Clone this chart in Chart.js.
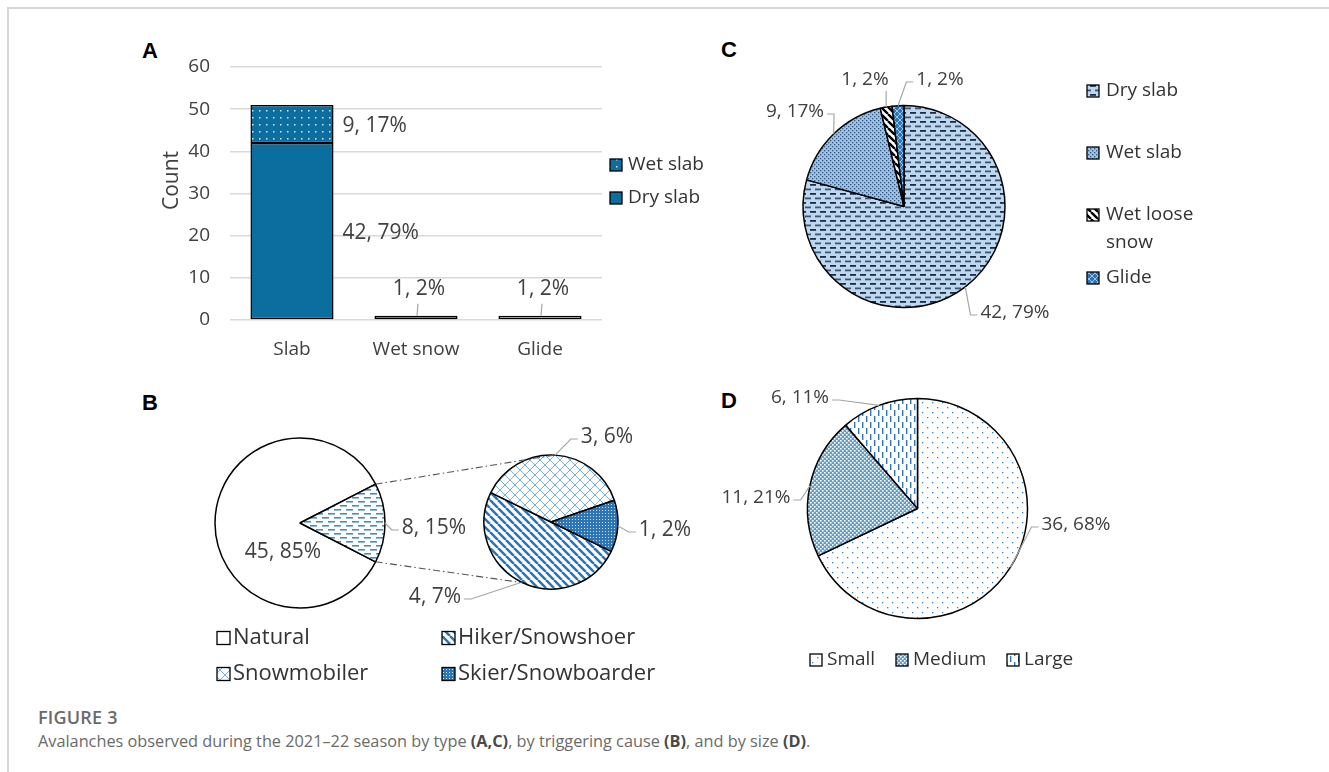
<!DOCTYPE html>
<html>
<head>
<meta charset="utf-8">
<script src="https://cdn.jsdelivr.net/npm/chart.js@4.4.1/dist/chart.umd.min.js"></script>
<style>
  html, body { margin: 0; padding: 0; background: #fff; }
  #page { position: relative; width: 1329px; height: 772px; overflow: hidden; font-family: "Open Sans", sans-serif; }
  .frame { position: absolute; left: 7px; top: 7px; width: 1400px; height: 800px; border-top: 2px solid #d6d6d6; border-left: 2px solid #d6d6d6; }
  .tag { position: absolute; font: bold 22px "Liberation Sans", Arial, sans-serif; line-height: 22px; color: #000; }
  canvas { position: absolute; }
  .cap1 { position: absolute; left: 38px; top: 707px; font-size: 18px; font-weight: 600; line-height: 20px; color: #6a6a6a; letter-spacing: 0.2px; }
  .cap2 { position: absolute; left: 38px; top: 731px; font-size: 16.3px; line-height: 20px; color: #6a6a6a; }
  .cap2 b { color: #4a4a4a; font-weight: 700; }
</style>
</head>
<body>
<div id="page">
  <div class="frame"></div>
  <div class="tag" style="left:142px; top:40px">A</div>
  <div class="tag" style="left:142px; top:392px">B</div>
  <div class="tag" style="left:721px; top:39px">C</div>
  <div class="tag" style="left:721px; top:390px">D</div>

  <canvas id="typeBars" width="600" height="340" style="left:130px; top:30px"></canvas>
  <canvas id="typePie" width="500" height="320" style="left:720px; top:30px"></canvas>
  <canvas id="triggerPie" width="570" height="320" style="left:130px; top:380px"></canvas>
  <canvas id="triggerSplit" width="570" height="320" style="left:130px; top:380px"></canvas>
  <canvas id="sizePie" width="480" height="320" style="left:720px; top:380px"></canvas>

  <div class="cap1">FIGURE 3</div>
  <div class="cap2">Avalanches observed during the 2021–22 season by type <b>(A,C)</b>, by triggering cause <b>(B)</b>, and by size <b>(D)</b>.</div>
</div>

<script>
// bar chart: avalanche type, stacked by slab kind
const typeCategories = ['Slab', 'Wet snow', 'Glide'];
const drySlabCounts = [42, null, null];
const wetSlabCounts = [9, null, null];
const otherTypeCounts = [null, 1, 1];
const drySlabShares = [79, null, null];
const wetSlabShares = [17, null, null];
const otherTypeShares = [null, 2, 2];
const countTicks = [0, 10, 20, 30, 40, 50, 60];
const countTitle = 'Count';

// pie: avalanche type
const typeNames = ['Dry slab', 'Wet slab', 'Wet loose snow', 'Glide'];
const typeCounts = [42, 9, 1, 1];
const typeShares = [79, 17, 2, 2];

// pie of pie: triggering cause
const triggerNames = ['Natural', 'Hiker/Snowshoer', 'Snowmobiler', 'Skier/Snowboarder'];
const triggerCounts = [45, 4, 3, 1];
const triggerShares = [85, 7, 6, 2];
const humanShare = 15;

// pie: avalanche size
const sizeNames = ['Small', 'Medium', 'Large'];
const sizeCounts = [36, 11, 6];
const sizeShares = [68, 21, 11];

const FONT = '"Open Sans", sans-serif';
const LABEL_COLOR = '#404040';
const LEADER_COLOR = '#a6a6a6';

Chart.defaults.font.family = FONT;
Chart.defaults.color = LABEL_COLOR;
Chart.defaults.animation = false;
Chart.defaults.events = [];
Chart.defaults.plugins.legend.display = false;
Chart.defaults.plugins.tooltip.enabled = false;

// ---- fill patterns ----
function tile(w, h, bg, paint) {
  const c = document.createElement('canvas');
  c.width = w; c.height = h;
  const g = c.getContext('2d');
  if (bg) { g.fillStyle = bg; g.fillRect(0, 0, w, h); }
  paint(g);
  return g.createPattern(c, 'repeat');
}
function dots(g, color, r, pts) {
  g.fillStyle = color;
  pts.forEach(([x, y]) => g.fillRect(x, y, r, r));
}
function stripes(g, s, color, lw, down) {
  g.strokeStyle = color; g.lineWidth = lw;
  g.beginPath();
  for (const k of [-s, 0, s]) {
    if (down) { g.moveTo(k, 0); g.lineTo(k + s, s); }
    else { g.moveTo(k, s); g.lineTo(k + s, 0); }
  }
  g.stroke();
}

const fill = {
  slab: '#0b6e9f',
  slabDots: tile(7, 7, '#0b6e9f', g => dots(g, '#d5eaf6', 1.5, [[3, 3]])),
  wetSnow: '#2e96d8',
  glideBar: '#a3c9ec',
  dryDash: tile(10, 9, '#bdd7ee', g => {
    g.fillStyle = '#1c2c46'; g.fillRect(0, 1, 6, 1.8);
    g.fillStyle = '#3f5673'; g.fillRect(5, 5.5, 5, 1.8); g.fillRect(0, 5.5, 1, 1.8);
  }),
  wetDots: tile(4, 4, '#9dc3e6', g => dots(g, '#34557e', 1.3, [[0, 0], [2, 2]])),
  wetLoose: tile(7, 7, '#ffffff', g => stripes(g, 7, '#000', 2.4, true)),
  glideLattice: tile(6, 6, '#2e75b6', g => { stripes(g, 6, '#a9cbea', 0.9, true); stripes(g, 6, '#a9cbea', 0.9, false); }),
  natural: '#ffffff',
  humanDash: tile(12, 8, '#ffffff', g => {
    g.fillStyle = '#4a8cc8'; g.fillRect(0, 1, 7, 1.6); g.fillRect(6, 5, 6, 1.6); g.fillRect(0, 5, 1, 1.6);
  }),
  hiker: tile(8, 8, '#ffffff', g => stripes(g, 8, '#2e75b6', 2.6, true)),
  snowmobiler: tile(10, 10, '#fbfdff', g => { stripes(g, 10, '#7aaedb', 1, true); stripes(g, 10, '#7aaedb', 1, false); }),
  skier: tile(3, 3, '#2e75b6', g => dots(g, '#cfe3f5', 1, [[1, 1]])),
  small: tile(10, 10, '#ffffff', g => dots(g, '#3a7fc0', 1.3, [[2, 2], [7, 7]])),
  medium: tile(4, 4, '#5f9ccf', g => dots(g, '#ffffff', 1.6, [[0, 0], [2, 2]])),
  large: tile(8, 12, '#ffffff', g => { g.fillStyle = '#2e75b6'; g.fillRect(2, 0, 1.4, 6); g.fillRect(6, 6, 1.4, 6); })
};

// ---- plugins ----
function barLabels(shares) {
  return {
    id: 'barLabels',
    afterDatasetsDraw(chart) {
      const ctx = chart.ctx;
      ctx.save();
      ctx.font = `21px ${FONT}`;
      ctx.textBaseline = 'middle';
      chart.data.datasets.forEach((ds, d) => {
        chart.getDatasetMeta(d).data.forEach((bar, i) => {
          const v = ds.data[i];
          if (v == null) return;
          const text = `${v}, ${shares[d][i]}%`;
          const h = bar.base - bar.y;
          ctx.fillStyle = LABEL_COLOR;
          if (h > 24) {
            ctx.textAlign = 'left';
            ctx.fillText(text, bar.x + bar.width / 2 + 9, bar.y + h / 2 + 2);
          } else {
            ctx.textAlign = 'center';
            ctx.fillText(text, bar.x + 3, bar.y - 27);
            ctx.strokeStyle = LEADER_COLOR; ctx.lineWidth = 1.2;
            ctx.beginPath(); ctx.moveTo(bar.x + 2, bar.y - 12); ctx.lineTo(bar.x + 1, bar.y); ctx.stroke();
          }
        });
      });
      ctx.restore();
    }
  };
}

// rotated y axis title, sitting a little above the axis middle
const axisTitle = {
  id: 'axisTitle',
  afterDraw(chart) {
    const y = chart.scales.y;
    const ctx = chart.ctx;
    ctx.save();
    ctx.translate(y.left + 42, (y.top + y.bottom) / 2 - 13);
    ctx.rotate(-Math.PI / 2);
    ctx.font = `21px ${FONT}`;
    ctx.fillStyle = LABEL_COLOR;
    ctx.textAlign = 'center';
    ctx.textBaseline = 'middle';
    ctx.fillText(countTitle, 0, 0);
    ctx.restore();
  }
};

// value labels around a pie, with elbow leader lines back to the slice edge
function sliceLabels(texts, spots, size) {
  return {
    id: 'sliceLabels',
    afterDatasetsDraw(chart) {
      const ctx = chart.ctx;
      const arcs = chart.getDatasetMeta(0).data;
      ctx.save();
      ctx.font = `${size}px ${FONT}`;
      ctx.textBaseline = 'middle';
      ctx.textAlign = 'center';
      arcs.forEach((arc, i) => {
        const s = spots[i];
        const text = texts[i];
        const w = ctx.measureText(text).width;
        const cx = arc.x + s.dx, cy = arc.y + s.dy;
        if (s.leader) {
          const mid = (arc.startAngle + arc.endAngle) / 2;
          const px = arc.x + Math.cos(mid) * arc.outerRadius;
          const py = arc.y + Math.sin(mid) * arc.outerRadius;
          let ex, ey, sx, sy;
          if (cx - w / 2 > px) { ex = cx - w / 2 - 3; sx = ex - 7; ey = sy = cy + 2; }
          else if (cx + w / 2 < px) { ex = cx + w / 2 + 3; sx = ex + 7; ey = sy = cy + 2; }
          else { ex = sx = Math.min(Math.max(px, cx - w / 2), cx + w / 2); ey = sy = cy + 11; }
          ctx.strokeStyle = LEADER_COLOR; ctx.lineWidth = 1.2;
          ctx.beginPath(); ctx.moveTo(px, py); ctx.lineTo(sx, sy); ctx.lineTo(ex, ey); ctx.stroke();
        }
        ctx.fillStyle = LABEL_COLOR;
        ctx.fillText(text, cx, cy);
      });
      ctx.restore();
    }
  };
}

function boxLegend(items, cfg) {
  return {
    id: 'boxLegend',
    afterDraw(chart) {
      const ctx = chart.ctx;
      const s = cfg.box;
      ctx.save();
      ctx.font = `${cfg.size}px ${FONT}`;
      ctx.textBaseline = 'middle';
      ctx.textAlign = 'left';
      items.forEach(it => {
        ctx.fillStyle = it.fill;
        ctx.fillRect(it.x, it.y - s / 2, s, s);
        ctx.strokeStyle = '#000'; ctx.lineWidth = 1.3;
        ctx.strokeRect(it.x, it.y - s / 2, s, s);
        // wrap long names onto a second line
        const words = it.text.split(' ');
        const lines = [];
        let cur = '';
        words.forEach(wd => {
          const next = cur ? cur + ' ' + wd : wd;
          if (cfg.maxWidth && ctx.measureText(next).width > cfg.maxWidth && cur) { lines.push(cur); cur = wd; }
          else cur = next;
        });
        lines.push(cur);
        ctx.fillStyle = '#333';
        lines.forEach((ln, k) => ctx.fillText(ln, it.x + s + cfg.gap, it.y + k * (cfg.lineHeight || 0)));
      });
      ctx.restore();
    }
  };
}

// dash-dot lines joining the human-triggered wedge to the breakdown pie
function splitLines(mainChart, wedgeIndex, angles) {
  return {
    id: 'splitLines',
    afterDatasetsDraw(chart) {
      const wedge = mainChart.getDatasetMeta(0).data[wedgeIndex];
      const sub = chart.getDatasetMeta(0).data[0];
      const ctx = chart.ctx;
      const ends = [wedge.startAngle, wedge.endAngle];
      ctx.save();
      ctx.strokeStyle = '#555'; ctx.lineWidth = 1.1;
      ctx.setLineDash([7, 3, 1.5, 3]);
      ends.forEach((a, k) => {
        const b = angles[k] * Math.PI / 180;
        ctx.beginPath();
        ctx.moveTo(wedge.x + Math.cos(a) * wedge.outerRadius, wedge.y + Math.sin(a) * wedge.outerRadius);
        ctx.lineTo(sub.x + Math.cos(b) * sub.outerRadius, sub.y + Math.sin(b) * sub.outerRadius);
        ctx.stroke();
      });
      ctx.restore();
    }
  };
}

const pct = (v, p) => `${v}, ${p}%`;

function pieOptions(padding, rotation) {
  return { responsive: false, rotation: rotation, layout: { padding: padding } };
}
function pieSet(data, colors, radius) {
  return { data: data, backgroundColor: colors, borderColor: '#000', borderWidth: 1.5, radius: radius, hoverOffset: 0, offset: 0 };
}

// ---- A: stacked bars ----
const barBase = { borderColor: '#000', borderWidth: 1.5, borderSkipped: false, barPercentage: 0.67, categoryPercentage: 1 };
new Chart(document.getElementById('typeBars'), {
  type: 'bar',
  data: {
    labels: typeCategories,
    datasets: [
      Object.assign({ label: 'Dry slab', data: drySlabCounts, backgroundColor: fill.slab }, barBase),
      Object.assign({ label: 'Wet slab', data: wetSlabCounts, backgroundColor: fill.slabDots }, barBase),
      Object.assign({ label: 'Other', data: otherTypeCounts, backgroundColor: ['#fff', fill.wetSnow, fill.glideBar] }, barBase)
    ]
  },
  options: {
    responsive: false,
    layout: { padding: { left: 0, right: 128, top: 37, bottom: 0 } },
    scales: {
      x: {
        stacked: true,
        grid: { display: false },
        border: { display: false },
        ticks: { font: { size: 19 }, color: LABEL_COLOR, padding: 10 },
        afterFit: s => { s.height = 50; }
      },
      y: {
        stacked: true,
        min: countTicks[0],
        max: countTicks[countTicks.length - 1],
        ticks: { stepSize: countTicks[1] - countTicks[0], font: { size: 19 }, color: LABEL_COLOR, padding: 20 },
        grid: { color: '#d9d9d9', lineWidth: 1.5, drawTicks: false },
        border: { display: false },
        afterFit: s => { s.width = 100; }
      }
    }
  },
  plugins: [
    barLabels([drySlabShares, wetSlabShares, otherTypeShares]),
    axisTitle,
    boxLegend([
      { text: 'Wet slab', fill: fill.slabDots, x: 480, y: 135 },
      { text: 'Dry slab', fill: fill.slab, x: 480, y: 168 }
    ], { box: 12, gap: 6, size: 19 })
  ]
});

// ---- C: type pie ----
const typeFills = [fill.dryDash, fill.wetDots, fill.wetLoose, fill.glideLattice];
new Chart(document.getElementById('typePie'), {
  type: 'pie',
  data: { labels: typeNames, datasets: [pieSet(typeCounts, typeFills, 101)] },
  options: pieOptions({ left: 0, right: 132, top: 33, bottom: 0 }, 0),
  plugins: [
    sliceLabels(typeCounts.map((v, i) => pct(v, typeShares[i])), [
      { dx: 111, dy: 106.5, leader: true },
      { dx: -109, dy: -94.5, leader: true },
      { dx: -39, dy: -126.5, leader: true },
      { dx: 36, dy: -126.5, leader: true }
    ], 19),
    boxLegend(typeNames.map((t, i) => ({ text: t, fill: typeFills[i], x: 367, y: [61, 123, 185, 248][i] })),
      { box: 12, gap: 7, size: 19, lineHeight: 28, maxWidth: 100 })
  ]
});

// ---- B: natural vs human-triggered, then breakdown of human triggers ----
const humanCounts = triggerCounts.slice(1);
const humanTotal = humanCounts.reduce((a, b) => a + b, 0);
const causeTotal = triggerCounts[0] + humanTotal;
const triggerFills = [fill.natural, fill.hiker, fill.snowmobiler, fill.skier];

const triggerPie = new Chart(document.getElementById('triggerPie'), {
  type: 'pie',
  data: { labels: ['Natural', 'Human'], datasets: [pieSet([triggerCounts[0], humanTotal], [fill.natural, fill.humanDash], 85)] },
  // turn the pie so the human-triggered wedge faces the breakdown pie
  options: pieOptions({ left: 0, right: 230, top: 0, bottom: 34 }, 90 - 360 * (triggerCounts[0] + humanTotal / 2) / causeTotal),
  plugins: [
    sliceLabels([pct(triggerCounts[0], triggerShares[0]), pct(humanTotal, humanShare)], [
      { dx: -17, dy: 29, leader: false },
      { dx: 134, dy: 5, leader: true }
    ], 21),
    boxLegend(triggerNames.map((t, i) => ({ text: t, fill: triggerFills[i], x: [87, 312][i % 2], y: [258, 294][Math.floor(i / 2)] })),
      { box: 13, gap: 3, size: 22 })
  ]
});

new Chart(document.getElementById('triggerSplit'), {
  type: 'pie',
  data: { labels: triggerNames.slice(1), datasets: [pieSet(humanCounts, triggerFills.slice(1), 67)] },
  options: pieOptions({ left: 300, right: 28, top: 0, bottom: 36 }, 116),
  plugins: [
    sliceLabels(humanCounts.map((v, i) => pct(v, triggerShares[i + 1])), [
      { dx: -116, dy: 75, leader: true },
      { dx: 56, dy: -85, leader: true },
      { dx: 114, dy: 8, leader: true }
    ], 21),
    splitLines(triggerPie, 1, [-87, 115])
  ]
});

// ---- D: size pie ----
const sizeFills = [fill.small, fill.medium, fill.large];
new Chart(document.getElementById('sizePie'), {
  type: 'pie',
  data: { labels: sizeNames, datasets: [pieSet(sizeCounts, sizeFills, 110)] },
  options: pieOptions({ left: 0, right: 85, top: 0, bottom: 63 }, 0),
  plugins: [
    sliceLabels(sizeCounts.map((v, i) => pct(v, sizeShares[i])), [
      { dx: 158.5, dy: 16.5, leader: true },
      { dx: -161.5, dy: -10.5, leader: true },
      { dx: -117.5, dy: -110.5, leader: true }
    ], 19),
    boxLegend(sizeNames.map((t, i) => ({ text: t, fill: sizeFills[i], x: [90, 176, 287][i], y: 280 })),
      { box: 12, gap: 5, size: 19 })
  ]
});
</script>
</body>
</html>
